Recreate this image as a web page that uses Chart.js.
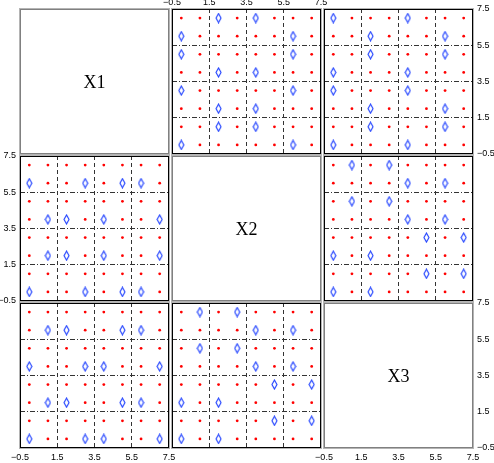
<!DOCTYPE html>
<html>
<head>
<meta charset="utf-8">
<script src="https://cdn.jsdelivr.net/npm/chart.js@4.4.1/dist/chart.umd.min.js"></script>
<style>
  body { margin: 0; background: #fff; width: 494px; height: 463px; overflow: hidden; position: relative; }
  canvas { position: absolute; }
</style>
</head>
<body>
<script>
// variable names on the diagonal
const varNames = ['X1', 'X2', 'X3'];
// the values every variable takes
const gridVals = [0, 1, 2, 3, 4, 5, 6, 7];
// axis ticks
const tickVals = [-0.5, 1.5, 3.5, 5.5, 7.5];
const tickLabels = ['\u22120.5', '1.5', '3.5', '5.5', '7.5'];

// r = red dot (group 1), b = blue diamond (group 2)
// one string per row, top row is y = 7, bottom row y = 0; char index = x value
// x = X2, y = X1
const x2VsX1 = [
  'rrbrbrrr',
  'brrrrrbr',
  'brrrrrbr',
  'rrbrbrrr',
  'brrrrrbr',
  'rrbrbrrr',
  'rrbrbrrr',
  'brrrrrbr'
];
// x = X3, y = X1
const x3VsX1 = [
  'brrrbrrr',
  'rrbrrrbr',
  'rrbrrrbr',
  'brrrbrrr',
  'brrrbrrr',
  'rrbrrrbr',
  'rrbrrrbr',
  'brrrbrrr'
];
// x = X3, y = X2
const x3VsX2 = [
  'rbrbrrrr',
  'rrrrbrbr',
  'rbrbrrrr',
  'rrrrbrbr',
  'rrrrrbrb',
  'brbrrrrr',
  'rrrrrbrb',
  'brbrrrrr'
];

const redColor = '#ff0000';
const blueColor = '#1a3cff';

// pick the points of one group out of a pattern; flip swaps x and y
function groupPoints(pattern, ch, flip) {
  let pts = [];
  pattern.forEach((row, i) => {
    let yv = gridVals[gridVals.length - 1 - i];
    for (let j = 0; j < row.length; j++) {
      if (row[j] === ch) {
        let xv = gridVals[j];
        pts.push(flip ? { x: yv, y: xv } : { x: xv, y: yv });
      }
    }
  });
  return pts;
}

// which pattern goes in which cell [row][col]
const cellData = {
  '0,1': [x2VsX1, false],
  '0,2': [x3VsX1, false],
  '1,2': [x3VsX2, false],
  '1,0': [x2VsX1, true],
  '2,0': [x3VsX1, true],
  '2,1': [x3VsX2, true]
};

// which cells carry tick labels and where
const xLabelSide = { '0,1': 'top', '2,0': 'bottom', '2,2': 'bottom' };
const yLabelSide = { '0,2': 'right', '1,0': 'left', '2,2': 'right' };

const colLeft = [20, 172, 324];
const rowTop = [9, 156, 303];
const W = 149, H = 145, M = 30;

// tall diamond marker
const diamond = document.createElement('canvas');
diamond.width = 7; diamond.height = 11;
(function () {
  let g = diamond.getContext('2d');
  g.strokeStyle = blueColor;
  g.lineWidth = 1.1;
  g.beginPath();
  g.moveTo(3.5, 1);
  g.lineTo(6, 5.5);
  g.lineTo(3.5, 10);
  g.lineTo(1, 5.5);
  g.closePath();
  g.stroke();
})();

const boxPlugin = {
  id: 'box',
  afterDraw(chart, args, opts) {
    const a = chart.chartArea;
    const ctx = chart.ctx;
    const l = Math.round(a.left), t = Math.round(a.top);
    const w = Math.round(a.right) - l, h = Math.round(a.bottom) - t;
    ctx.save();
    if (opts.name) {
      ctx.fillStyle = '#000';
      ctx.font = '18px "Liberation Serif", "DejaVu Serif", serif';
      ctx.textAlign = 'center';
      ctx.textBaseline = 'middle';
      ctx.fillText(opts.name, l + w / 2, t + h / 2 + 2);
    }
    ctx.lineWidth = 1;
    ctx.strokeStyle = '#b4b4b4';
    ctx.strokeRect(l - 0.5, t - 0.5, w + 1, h + 1);
    ctx.strokeStyle = opts.diag ? '#808080' : '#000';
    ctx.strokeRect(l + 0.5, t + 0.5, w - 1, h - 1);
    ctx.restore();
  }
};

const tickFont = { family: '"Liberation Sans", Arial, sans-serif', size: 9 };

function isEdge(ctx) {
  return ctx.tick && (ctx.tick.value === tickVals[0] || ctx.tick.value === tickVals[tickVals.length - 1]);
}

for (let r = 0; r < 3; r++) {
  for (let c = 0; c < 3; c++) {
    const key = r + ',' + c;
    const diag = r === c;
    const xSide = xLabelSide[key];
    const ySide = yLabelSide[key];
    const xPos = xSide || 'bottom';
    const yPos = ySide || 'left';

    const cv = document.createElement('canvas');
    cv.width = W + 2 * M;
    cv.height = H + 2 * M;
    cv.style.left = (colLeft[c] - M) + 'px';
    cv.style.top = (rowTop[r] - M) + 'px';
    document.body.appendChild(cv);

    let datasets = [];
    if (!diag) {
      const [pat, flip] = cellData[key];
      datasets = [
        {
          data: groupPoints(pat, 'r', flip),
          pointStyle: 'circle',
          pointRadius: 1.4,
          pointBorderWidth: 0,
          backgroundColor: redColor,
          borderColor: redColor
        },
        {
          data: groupPoints(pat, 'b', flip),
          pointStyle: diamond,
          pointRadius: 5,
          backgroundColor: blueColor,
          borderColor: blueColor
        }
      ];
    }

    new Chart(cv, {
      type: 'scatter',
      data: { datasets: datasets },
      plugins: [boxPlugin],
      options: {
        responsive: false,
        animation: false,
        devicePixelRatio: 1,
        layout: {
          autoPadding: false,
          padding: {
            left: yPos === 'left' ? 0 : M,
            right: yPos === 'right' ? 0 : M,
            top: xPos === 'top' ? 0 : M,
            bottom: xPos === 'bottom' ? 0 : M
          }
        },
        plugins: {
          legend: { display: false },
          tooltip: { enabled: false },
          box: { diag: diag, name: diag ? varNames[r] : '' }
        },
        scales: {
          x: {
            type: 'linear',
            position: xPos,
            min: tickVals[0],
            max: tickVals[tickVals.length - 1],
            afterBuildTicks: s => { s.ticks = tickVals.map(v => ({ value: v })); },
            afterFit: s => { s.height = M; },
            ticks: {
              display: !!xSide,
              autoSkip: false,
              maxRotation: 0,
              padding: xPos === 'top' ? 1 : 4,
              color: '#000',
              font: tickFont,
              callback: (v, i) => tickLabels[i]
            },
            grid: {
              display: !diag,
              drawTicks: false,
              color: ctx => isEdge(ctx) ? 'rgba(0,0,0,0)' : '#333',
              lineWidth: 1
            },
            border: { display: false, dash: [4, 3] }
          },
          y: {
            type: 'linear',
            position: yPos,
            min: tickVals[0],
            max: tickVals[tickVals.length - 1],
            afterBuildTicks: s => { s.ticks = tickVals.map(v => ({ value: v })); },
            afterFit: s => { s.width = M; },
            ticks: {
              display: !!ySide,
              autoSkip: false,
              padding: 4,
              color: '#000',
              font: tickFont,
              callback: (v, i) => tickLabels[i]
            },
            grid: {
              display: !diag,
              drawTicks: false,
              color: ctx => isEdge(ctx) ? 'rgba(0,0,0,0)' : '#333',
              lineWidth: 1
            },
            border: { display: false, dash: [5, 2, 1, 2] }
          }
        }
      }
    });
  }
}
</script>
</body>
</html>
